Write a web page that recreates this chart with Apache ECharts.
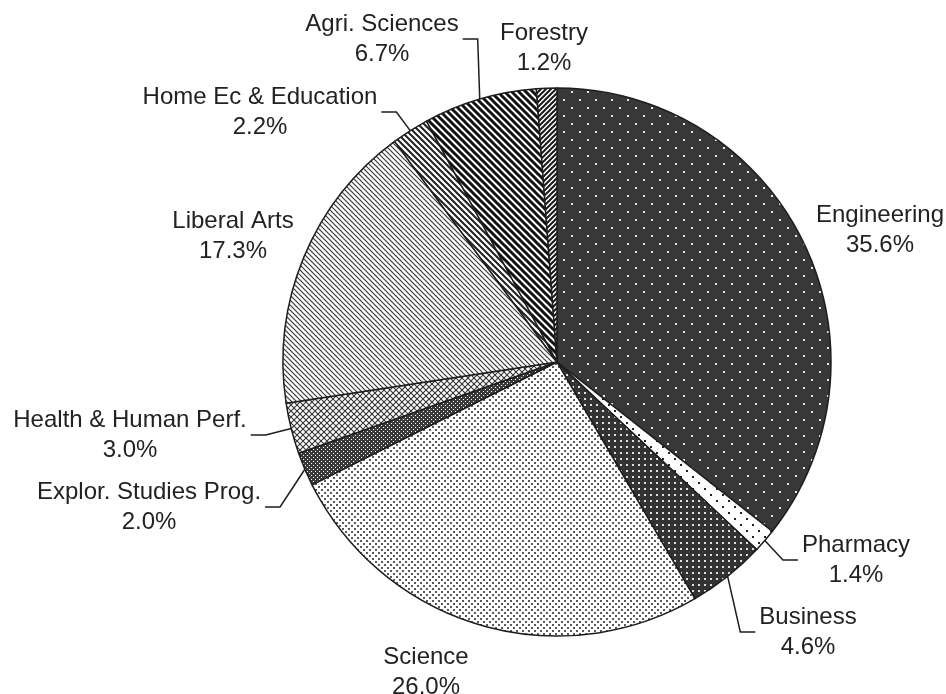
<!DOCTYPE html>
<html>
<head>
<meta charset="utf-8">
<script src="https://cdn.jsdelivr.net/npm/echarts@6/dist/echarts.min.js"></script>
<style>
  html, body { margin: 0; padding: 0; background: #fff; }
  #chart { width: 946px; height: 694px; }
</style>
</head>
<body>
<div id="chart"></div>
<script>
// ---- data ----
const categories = ['Engineering', 'Pharmacy', 'Business', 'Science', 'Explor. Studies Prog.',
  'Health & Human Perf.', 'Liberal Arts', 'Home Ec & Education', 'Agri. Sciences', 'Forestry'];
const shares = [35.6, 1.4, 4.6, 26.0, 2.0, 3.0, 17.3, 2.2, 6.7, 1.2];

// ---- layout / style (kept separate from data) ----
const pieCenter = [557, 362];
const pieRadius = 274;
const labelCenters = [[880, 230], [856, 560], [808, 632], [426, 672], [149, 507],
  [130, 435], [233, 236], [260, 112], [382, 39], [544, 48]];
const hasLeader = [false, true, true, false, true, true, false, true, true, false];
const patternKinds = ['engDots', 'pharmDots', 'busDots', 'sciDots', 'darkHatch',
  'lightHatch', 'thinBack', 'midBack', 'thickBack', 'fwd'];

function tile(w, h, draw) {
  const c = document.createElement('canvas');
  c.width = w; c.height = h;
  const g = c.getContext('2d');
  draw(g, w, h);
  return c;
}
function dotTile(w, h, bg, fg, pts, s) {
  return tile(w, h, (g) => {
    g.fillStyle = bg; g.fillRect(0, 0, w, h);
    g.fillStyle = fg;
    pts.forEach(p => g.fillRect(p[0], p[1], s, s));
  });
}
function diagTile(s, color, lw, dir) {
  return tile(s, s, (g) => {
    g.fillStyle = '#fff'; g.fillRect(0, 0, s, s);
    g.strokeStyle = color; g.lineWidth = lw; g.lineCap = 'square';
    for (let k = -s; k <= s; k += s) {
      g.beginPath();
      if (dir === 'back') { g.moveTo(k - 1, -1); g.lineTo(k + s + 1, s + 1); }
      else { g.moveTo(k - 1, s + 1); g.lineTo(k + s + 1, -1); }
      g.stroke();
    }
  });
}
function crossTile(s, color, lw) {
  return tile(s, s, (g) => {
    g.fillStyle = '#fff'; g.fillRect(0, 0, s, s);
    g.strokeStyle = color; g.lineWidth = lw;
    for (let k = -s; k <= s; k += s) {
      g.beginPath(); g.moveTo(k - 1, -1); g.lineTo(k + s + 1, s + 1); g.stroke();
      g.beginPath(); g.moveTo(k - 1, s + 1); g.lineTo(k + s + 1, -1); g.stroke();
    }
  });
}
function makePattern(kind) {
  switch (kind) {
    case 'engDots': return dotTile(16, 16, '#383838', '#e6e6e6', [[3, 3], [11, 11]], 2);
    case 'pharmDots': return dotTile(12, 12, '#ffffff', '#222222', [[2, 2], [8, 8]], 2);
    case 'busDots': return dotTile(6, 6, '#333333', '#e0e0e0', [[2, 2]], 2);
    case 'sciDots': return dotTile(6, 6, '#ffffff', '#5a5a5a', [[0, 0], [3, 3]], 2);
    case 'darkHatch': return dotTile(4, 4, '#3a3a3a', '#ffffff', [[1, 1], [3, 3]], 1);
    case 'lightHatch': return crossTile(6, '#333333', 1.1);
    case 'thinBack': return diagTile(5, '#3a3a3a', 1.2, 'back');
    case 'midBack': return diagTile(6, '#222222', 2, 'back');
    case 'thickBack': return diagTile(7, '#111111', 3, 'back');
    case 'fwd': return diagTile(5, '#1a1a1a', 2, 'fwd');
  }
}

const seriesData = categories.map((name, i) => ({
  name: name,
  value: shares[i],
  itemStyle: { color: { image: makePattern(patternKinds[i]), repeat: 'repeat' } },
  labelLine: { show: hasLeader[i] }
}));

const chart = echarts.init(document.getElementById('chart'), null, { renderer: 'canvas' });
chart.setOption({
  backgroundColor: '#ffffff',
  animation: false,
  series: [{
    type: 'pie',
    center: pieCenter,
    radius: pieRadius,
    startAngle: 90,
    clockwise: true,
    avoidLabelOverlap: false,
    emphasis: { disabled: true },
    itemStyle: { borderColor: '#1e1e1e', borderWidth: 1.5 },
    label: {
      show: true,
      position: 'outside',
      formatter: p => p.name + '\n' + p.value.toFixed(1) + '%',
      fontFamily: '"Liberation Sans", Arial, sans-serif',
      fontSize: 24,
      lineHeight: 30,
      color: '#222222',
      align: 'center'
    },
    labelLine: { show: true, length: 10, length2: 10, lineStyle: { color: '#1e1e1e', width: 1.5 } },
    labelLayout: function (params) {
      const i = params.dataIndex;
      const lx = labelCenters[i][0], ly = labelCenters[i][1];
      const res = { x: lx, y: ly, align: 'center', verticalAlign: 'middle' };
      if (hasLeader[i] && params.labelLinePoints) {
        const w = params.labelRect.width;
        const start = params.labelLinePoints[0];
        const left = lx < pieCenter[0];
        const endX = left ? lx + w / 2 + 4 : lx - w / 2 - 4;
        const bendX = left ? endX + 15 : endX - 15;
        res.labelLinePoints = [[start[0], start[1]], [bendX, ly], [endX, ly]];
      }
      return res;
    },
    data: seriesData
  }]
});
</script>
</body>
</html>
